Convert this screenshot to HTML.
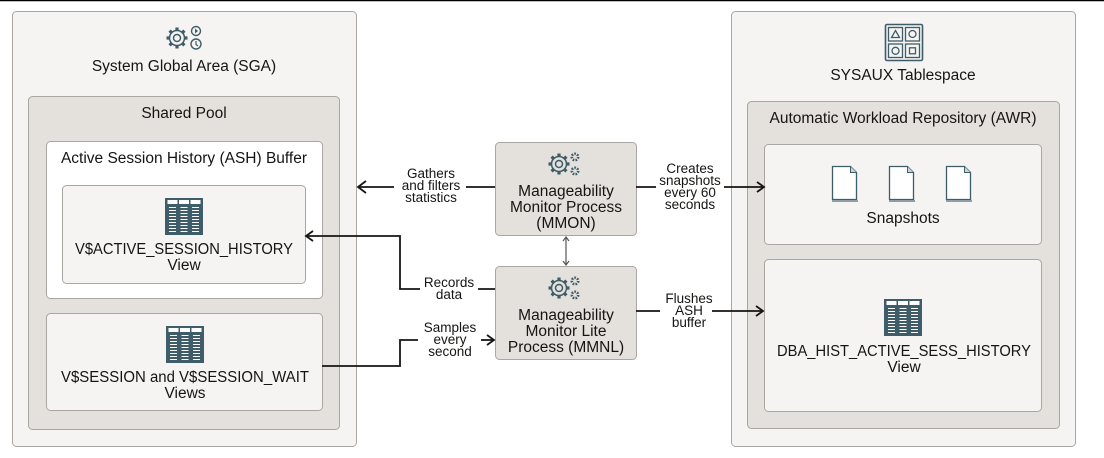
<!DOCTYPE html>
<html><head><meta charset="utf-8"><style>
html,body{margin:0;padding:0;background:#fff;}
svg{display:block;font-family:"Liberation Sans",sans-serif;}
text{fill:#161513;}
</style></head><body>
<svg width="1104" height="458" viewBox="0 0 1104 458" xmlns="http://www.w3.org/2000/svg">
<defs>
<g id="tbl">
<rect x="0" y="0" width="38" height="37" fill="#3e5d69"/>
<rect x="2.5" y="2" width="10" height="4" fill="#fff"/><rect x="14" y="2" width="10" height="4" fill="#fff"/><rect x="25.5" y="2" width="10" height="4" fill="#fff"/>
<g fill="none" stroke="#fff" stroke-width="1">
<path d="M4 9.5h7M4 12.5h7M4 15.5h7M4 18.5h7M4 21.5h7M4 24.5h7M4 27.5h7M4 30.5h7M4 33.5h7"/>
<path d="M15.5 9.5h7M15.5 12.5h7M15.5 15.5h7M15.5 18.5h7M15.5 21.5h7M15.5 24.5h7M15.5 27.5h7M15.5 30.5h7M15.5 33.5h7"/>
<path d="M27 9.5h7M27 12.5h7M27 15.5h7M27 18.5h7M27 21.5h7M27 24.5h7M27 27.5h7M27 30.5h7M27 33.5h7"/>
</g>
</g>
<g id="gear" fill="none" stroke="#3e5d69" stroke-width="1.5">
<circle cx="0" cy="0" r="7.5"/>
<circle cx="0" cy="0" r="3.5"/>
<g stroke-width="3.2">
<path d="M0 -7.5v-3M0 7.5v3M-7.5 0h-3M7.5 0h3M5.3 5.3l2.1 2.1M-5.3 -5.3l-2.1 -2.1M5.3 -5.3l2.1 -2.1M-5.3 5.3l-2.1 2.1"/>
</g>
</g>
<g id="gears">
<use href="#gear"/>
<circle cx="16" cy="-7" r="3.2" fill="none" stroke="#3e5d69" stroke-width="2.6" stroke-dasharray="1.6 1.2"/>
<circle cx="16" cy="7" r="3.2" fill="none" stroke="#3e5d69" stroke-width="2.6" stroke-dasharray="1.6 1.2"/>
</g>
<g id="doc">
<path d="M0.5 0.5h18l6 6v27h-24z" fill="#fff" stroke="#3e5d69" stroke-width="1.3"/>
<path d="M18.5 0.5v6h6" fill="#c9d3d7" stroke="#3e5d69" stroke-width="1"/>
<rect x="0" y="34" width="26" height="2" fill="#8aa0a8"/>
</g>
<marker id="ah" markerWidth="12" markerHeight="12" refX="10" refY="6" orient="auto" markerUnits="userSpaceOnUse">
<path d="M3 1L10 6L3 11" fill="none" stroke="#161513" stroke-width="1.8"/>
</marker>
<marker id="ahg" markerWidth="8" markerHeight="8" refX="6" refY="4" orient="auto-start-reverse" markerUnits="userSpaceOnUse">
<path d="M2 1L6 4L2 7" fill="none" stroke="#555" stroke-width="1.2"/>
</marker>
</defs>
<line x1="0" y1="0.5" x2="1104" y2="0.5" stroke="#000" stroke-width="1.5"/>

<!-- SGA -->
<rect x="12.5" y="11.5" width="344" height="435" rx="4" fill="#f5f4f2" stroke="#aaa7a2"/>
<g transform="translate(177,38)"><use href="#gear"/>
<circle cx="19" cy="-7" r="4.5" fill="none" stroke="#3e5d69" stroke-width="1.4"/><path d="M18 -9.5l3 2.5l-3 2.5z" fill="#3e5d69"/>
<circle cx="19" cy="6" r="5" fill="none" stroke="#3e5d69" stroke-width="1.4"/><path d="M19 3v3.5l2 1.5" fill="none" stroke="#3e5d69" stroke-width="1.2"/></g>
<text x="184" y="71" font-size="15.5" text-anchor="middle">System Global Area (SGA)</text>
<rect x="28.5" y="96.5" width="311" height="333" rx="4" fill="#e4e1dc" stroke="#aaa7a2"/>
<text x="184" y="118" font-size="15.5" text-anchor="middle">Shared Pool</text>
<rect x="46.5" y="141.5" width="276" height="157" rx="4" fill="#fff" stroke="#aaa7a2"/>
<text x="184" y="163" font-size="15.5" text-anchor="middle">Active Session History (ASH) Buffer</text>
<rect x="62.5" y="185.5" width="243" height="98" rx="4" fill="#f5f4f2" stroke="#aaa7a2"/>
<use href="#tbl" x="165" y="198"/>
<text x="184" y="254" font-size="15.5" text-anchor="middle" textLength="218" lengthAdjust="spacingAndGlyphs">V$ACTIVE_SESSION_HISTORY</text>
<text x="184" y="270" font-size="15.5" text-anchor="middle">View</text>
<rect x="46.5" y="313.5" width="276" height="97" rx="4" fill="#f5f4f2" stroke="#aaa7a2"/>
<use href="#tbl" x="166" y="326"/>
<text x="185" y="382" font-size="15.5" text-anchor="middle" textLength="248" lengthAdjust="spacingAndGlyphs">V$SESSION and V$SESSION_WAIT</text>
<text x="185" y="398" font-size="15.5" text-anchor="middle">Views</text>

<!-- SYSAUX -->
<rect x="731.5" y="11.5" width="344" height="435" rx="4" fill="#f5f4f2" stroke="#aaa7a2"/>
<g transform="translate(885,24)" fill="none" stroke="#3e5d69">
<rect x="0.5" y="0.5" width="37" height="36" rx="1.5" stroke-width="1.6"/>
<rect x="3.5" y="3.5" width="14" height="13.5" stroke-width="1.3"/><rect x="20.5" y="3.5" width="14" height="13.5" stroke-width="1.3"/>
<rect x="3.5" y="20" width="14" height="13.5" stroke-width="1.3"/><rect x="20.5" y="20" width="14" height="13.5" stroke-width="1.3"/>
<path d="M10.5 6.5l4 7h-8z" stroke-width="1.3"/><circle cx="27.5" cy="10" r="3.5" stroke-width="1.3"/>
<circle cx="10.5" cy="26.8" r="3.5" stroke-width="1.3"/><rect x="24.5" y="23.8" width="6" height="6" stroke-width="1.3"/>
</g>
<text x="903" y="80" font-size="15.5" text-anchor="middle">SYSAUX Tablespace</text>
<rect x="747.5" y="101.5" width="312" height="327" rx="4" fill="#e4e1dc" stroke="#aaa7a2"/>
<text x="903" y="123" font-size="15.5" text-anchor="middle">Automatic Workload Repository (AWR)</text>
<rect x="764.5" y="144.5" width="277" height="100" rx="4" fill="#f5f4f2" stroke="#aaa7a2"/>
<use href="#doc" x="832" y="166"/><use href="#doc" x="889" y="166"/><use href="#doc" x="946" y="166"/>
<text x="903" y="223" font-size="15.5" text-anchor="middle">Snapshots</text>
<rect x="764.5" y="259.5" width="277" height="152" rx="4" fill="#f5f4f2" stroke="#aaa7a2"/>
<use href="#tbl" x="884" y="299"/>
<text x="904" y="356" font-size="15.5" text-anchor="middle" textLength="254" lengthAdjust="spacingAndGlyphs">DBA_HIST_ACTIVE_SESS_HISTORY</text>
<text x="904" y="372" font-size="15.5" text-anchor="middle">View</text>

<!-- processes -->
<rect x="495.5" y="142.5" width="141" height="93" rx="4" fill="#e4e1dc" stroke="#aaa7a2"/>
<use href="#gears" x="559" y="164"/>
<text x="566" y="196" font-size="15.5" text-anchor="middle">Manageability</text>
<text x="566" y="212" font-size="15.5" text-anchor="middle">Monitor Process</text>
<text x="566" y="228" font-size="15.5" text-anchor="middle">(MMON)</text>
<rect x="495.5" y="266.5" width="141" height="93" rx="4" fill="#e4e1dc" stroke="#aaa7a2"/>
<use href="#gears" x="559" y="288"/>
<text x="566" y="320" font-size="15.5" text-anchor="middle">Manageability</text>
<text x="566" y="336" font-size="15.5" text-anchor="middle">Monitor Lite</text>
<text x="566" y="352" font-size="15.5" text-anchor="middle">Process (MMNL)</text>
<line x1="566" y1="237" x2="566" y2="265" stroke="#555" stroke-width="1.2" marker-start="url(#ahg)" marker-end="url(#ahg)"/>

<!-- connectors -->
<g fill="none" stroke="#161513" stroke-width="1.8">
<path d="M495 187H466"/><path d="M394 187H358"/>
<path d="M636 187H656"/><path d="M724 187H764" marker-end="url(#ah)"/>
<path d="M495 289H478"/><path d="M420 289H400V236H306" marker-end="url(#ah)"/>
<path d="M322 366H400V340H418"/><path d="M481 340H494" marker-end="url(#ah)"/>
<path d="M636 311H660"/><path d="M712 311H763" marker-end="url(#ah)"/>
</g>
<path d="M366 181L358 187L366 193" fill="none" stroke="#161513" stroke-width="1.8"/>
<g font-size="13.5" text-anchor="middle">
<text x="431" y="178">Gathers</text><text x="431" y="190">and filters</text><text x="431" y="202">statistics</text>
<text x="690" y="173">Creates</text><text x="690" y="185">snapshots</text><text x="690" y="197">every 60</text><text x="690" y="209">seconds</text>
<text x="449" y="287">Records</text><text x="449" y="299">data</text>
<text x="450" y="332">Samples</text><text x="450" y="344">every</text><text x="450" y="356">second</text>
<text x="689" y="303">Flushes</text><text x="689" y="315">ASH</text><text x="689" y="327">buffer</text>
</g>
</svg>
</body></html>
